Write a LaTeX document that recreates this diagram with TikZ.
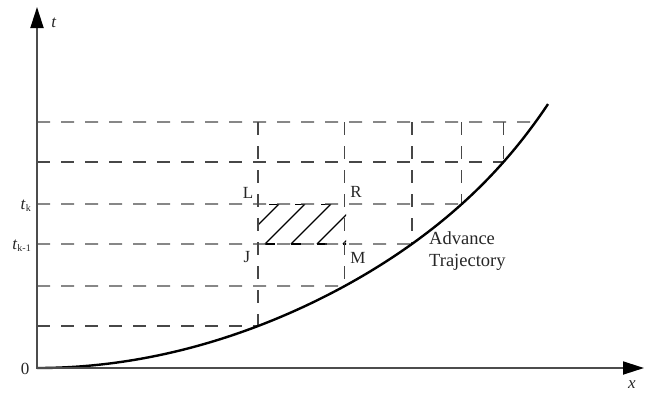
\documentclass[tikz,border=0pt]{standalone}
\usepackage{fontspec}
\setmainfont{Liberation Serif}
\usetikzlibrary{arrows.meta,intersections}
\begin{document}
\begin{tikzpicture}[x=1pt,y=-1pt,
  axis/.style={line width=1.8pt, draw=black!70, -{Triangle[length=21pt,width=13pt,color=black]}},
  gridline/.style={draw=black!72, line width=1.3pt, dash pattern=on 13pt off 11pt},
  curve/.style={draw=black, line width=2.4pt},
  hatch/.style={draw=black, line width=1.3pt},
  lbl/.style={font=\fontsize{17}{20}\selectfont, inner sep=0pt, text=black!85},
]
\useasboundingbox (0,0) rectangle (645,392);
% axes
\coordinate (O) at (37,368);
\coordinate (ytop) at (37,7);
\coordinate (xend) at (644,368);
% trajectory path (for intersections)
\path[name path=traj] plot[domain=0:511, samples=120, smooth]
  ({37+\x}, {368 - 214.65*(\x/500)^2 - 33.4*(\x/500)^8});
% horizontal levels
\foreach \i/\yy in {1/326,2/286,3/244,4/204,5/162,6/122} {
  \coordinate (Y\i) at (37,\yy);
  \path[name path=h\i] (37,\yy) -- (640,\yy);
  \path[name intersections={of=traj and h\i, by={A\i}}];
}
% hatching
\begin{scope}
  \clip (258,204) rectangle (346,244);
  \foreach \b in {239,265,291,317,343} {
    \draw[hatch] (\b,244) -- ({\b+40},204);
    \draw[hatch] ({\b+30},204) -- ({\b+40},204);
    \draw[hatch] (\b,244) -- ({\b+10},244);
  }
\end{scope}
% dashed grid
\foreach \i in {1,...,6} \draw[gridline] (Y\i) -- (A\i);
\foreach \i in {1,...,5} \draw[gridline] (A\i |- Y6) -- (A\i);
% trajectory
\draw[curve] plot[domain=0:511, samples=120, smooth]
  ({37+\x}, {368 - 214.65*(\x/500)^2 - 33.4*(\x/500)^8});
% axes on top
\draw[axis] (37,369) -- (ytop);
\draw[axis] (36,368) -- (xend);
% labels
\node[lbl] (tl) at (54,23) {\textit{t}};
\node[lbl] (xl) at (632,385) {\textit{x}};
\node[lbl] (zero) at (25,369) {0};
\node[lbl, anchor=base east] (tk) at (31,209) {\textit{t}{\fontsize{10}{12}\selectfont\raisebox{-2pt}{k}}};
\node[lbl, anchor=base east] (tk1) at (31,249) {\textit{t}{\fontsize{10}{12}\selectfont\raisebox{-2pt}{k-1}}};
\node[lbl] (L) at (248,193) {L};
\node[lbl] (R) at (356,192) {R};
\node[lbl] (J) at (247,257) {J};
\node[lbl] (M) at (358,258) {M};
\node[lbl, font=\fontsize{18.5}{22}\selectfont, align=left, anchor=west] (adv) at (429,251) {Advance\\Trajectory};
\end{tikzpicture}
\end{document}
